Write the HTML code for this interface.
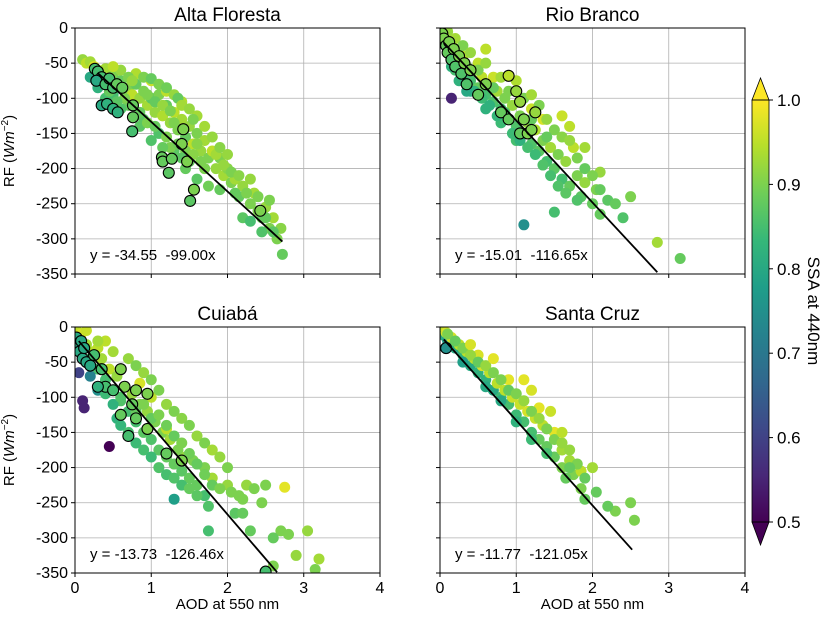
<!DOCTYPE html>
<html><head><meta charset="utf-8"><style>
body{margin:0;background:#fff}
svg{font-family:"Liberation Sans","DejaVu Sans",sans-serif}
.eq{white-space:pre}
</style></head><body>
<svg id="fig" width="824" height="616" xmlns="http://www.w3.org/2000/svg"></svg>
<script>
// ---- data: [AOD, RF, SSA] ----
const xTicks=[0,1,2,3,4];
const yTicks=[0,-50,-100,-150,-200,-250,-300,-350];
const cbTicks=[0.5,0.6,0.7,0.8,0.9,1.0];
const titles=["Alta Floresta","Rio Branco","Cuiabá","Santa Cruz"];
const equations=["y = -34.55  -99.00x","y = -15.01  -116.65x","y = -13.73  -126.46x","y = -11.77  -121.05x"];
const intercepts=[-34.55,-15.01,-13.73,-11.77];
const slopes=[-99.00,-116.65,-126.46,-121.05];
const lineRanges=[[0.3,2.72],[0.05,2.85],[0.05,2.65],[0.05,2.52]];
const afPoints=[[0.1,-45,0.92],[0.15,-50,0.95],[0.2,-48,0.93],[0.25,-55,0.97],[0.3,-60,0.96],[0.35,-65,0.9],[0.4,-58,0.93],[0.45,-72,0.95],[0.5,-68,0.9],[0.55,-80,0.92],[0.6,-75,0.88],[0.65,-90,0.93],[0.7,-85,0.9],[0.75,-95,0.95],[0.8,-80,0.88],[0.85,-100,0.92],[0.9,-90,0.9],[0.95,-110,0.93],[1.0,-100,0.87],[1.05,-120,0.92],[1.1,-95,0.9],[1.15,-125,0.94],[1.2,-110,0.88],[1.25,-135,0.92],[1.3,-120,0.95],[1.35,-145,0.9],[1.4,-130,0.93],[1.45,-155,0.88],[1.5,-140,0.92],[1.55,-165,0.95],[1.6,-150,0.9],[1.65,-175,0.92],[1.7,-160,0.93],[1.75,-185,0.9],[1.8,-175,0.95],[1.85,-200,0.92],[1.9,-185,0.9],[1.95,-210,0.93],[2.0,-200,0.91],[2.05,-220,0.9],[2.1,-215,0.93],[2.15,-240,0.88],[2.2,-225,0.92],[2.3,-250,0.9],[2.35,-235,0.93],[2.4,-260,0.9],[2.45,-270,0.88],[2.5,-255,0.92],[2.55,-285,0.9],[2.6,-270,0.93],[2.65,-300,0.9],[2.7,-285,0.91],[2.72,-322,0.88],[0.5,-95,0.85],[0.7,-110,0.88],[0.9,-130,0.87],[1.1,-150,0.86],[1.3,-175,0.87],[1.5,-190,0.88],[1.7,-200,0.9],[1.2,-90,0.95],[1.4,-105,0.94],[1.6,-125,0.93],[0.8,-65,0.94],[1.0,-75,0.96],[1.9,-230,0.88],[2.2,-270,0.87],[0.3,-85,0.82],[0.4,-100,0.85],[0.2,-70,0.8],[0.6,-115,0.86],[0.85,-140,0.87],[1.0,-160,0.86],[1.25,-170,0.9],[1.45,-200,0.88],[1.6,-215,0.87],[1.75,-225,0.89]];
const afExtra=[[0.9,-70,0.9],[1.0,-72,0.88],[1.1,-80,0.9],[1.2,-85,0.89],[1.3,-95,0.92],[1.35,-100,0.88],[1.4,-110,0.93],[1.5,-115,0.92],[1.55,-130,0.9],[0.95,-95,0.9],[1.05,-105,0.88],[1.15,-110,0.92],[1.25,-118,0.9],[0.6,-60,0.92],[0.7,-70,0.9],[0.85,-120,0.88],[0.95,-135,0.9],[1.05,-140,0.88],[1.2,-155,0.9],[1.35,-165,0.89],[1.45,-175,0.9],[1.55,-180,0.91],[1.65,-190,0.9],[1.85,-180,0.93],[1.95,-195,0.92],[2.05,-205,0.9],[2.15,-210,0.91],[2.25,-235,0.9],[2.3,-215,0.92],[2.4,-240,0.9],[2.5,-270,0.88],[2.6,-290,0.87],[2.55,-245,0.9],[2.45,-290,0.86],[1.7,-140,0.93],[1.8,-155,0.92],[1.9,-170,0.91],[2.0,-180,0.92],[0.5,-55,0.95],[0.65,-100,0.9],[0.75,-75,0.92],[1.15,-170,0.88],[1.3,-135,0.9],[1.4,-185,0.87],[2.1,-235,0.88],[2.3,-275,0.85],[1.6,-165,0.91],[0.55,-105,0.87],[0.45,-90,0.88]];
const afCircled=[[0.26,-58,0.85],[0.3,-62,0.85],[0.35,-70,0.85],[0.28,-75,0.8],[0.4,-80,0.85],[0.45,-72,0.85],[0.5,-85,0.85],[0.55,-80,0.88],[0.62,-85,0.88],[0.35,-110,0.8],[0.42,-108,0.82],[0.5,-115,0.82],[0.56,-120,0.82],[0.76,-110,0.88],[0.76,-127,0.88],[0.75,-147,0.85],[1.42,-144,0.9],[1.4,-165,0.9],[1.14,-184,0.88],[1.15,-190,0.88],[1.27,-186,0.88],[1.47,-190,0.9],[1.23,-206,0.87],[1.56,-230,0.9],[1.51,-246,0.87],[2.43,-260,0.9]];
const rbPoints=[[0.02,-5,0.95],[0.05,-10,0.92],[0.08,-20,0.9],[0.1,-12,0.97],[0.12,-30,0.88],[0.15,-25,0.95],[0.18,-40,0.85],[0.2,-30,0.93],[0.25,-50,0.88],[0.3,-40,0.95],[0.3,-65,0.82],[0.35,-55,0.9],[0.4,-75,0.85],[0.45,-60,0.93],[0.5,-85,0.88],[0.55,-70,0.95],[0.6,-95,0.85],[0.65,-80,0.92],[0.7,-105,0.86],[0.75,-90,0.93],[0.8,-115,0.85],[0.85,-100,0.9],[0.9,-130,0.84],[0.95,-110,0.92],[1.0,-140,0.86],[1.05,-125,0.9],[1.1,-150,0.85],[1.15,-135,0.92],[1.2,-165,0.86],[1.25,-145,0.94],[1.3,-175,0.87],[1.35,-160,0.9],[1.4,-190,0.85],[1.45,-170,0.93],[1.5,-200,0.87],[1.55,-180,0.9],[1.6,-215,0.85],[1.65,-190,0.92],[1.7,-225,0.88],[1.8,-210,0.9],[1.85,-240,0.87],[1.9,-220,0.92],[2.0,-250,0.88],[2.05,-230,0.9],[2.1,-205,0.92],[1.75,-170,0.95],[1.2,-115,0.96],[1.35,-130,0.97],[0.15,-100,0.55],[1.1,-280,0.75],[3.15,-328,0.88],[2.85,-305,0.93],[1.5,-262,0.85],[0.4,-90,0.8],[0.6,-115,0.82],[0.8,-135,0.84],[0.2,-60,0.85],[1.0,-160,0.85],[2.1,-265,0.88],[0.5,-50,0.95],[0.7,-70,0.96]];
const rbExtra=[[0.1,-5,0.92],[0.2,-15,0.93],[0.3,-25,0.9],[0.4,-35,0.92],[0.5,-60,0.9],[0.6,-50,0.92],[0.7,-85,0.88],[0.8,-70,0.93],[0.9,-90,0.9],[1.0,-75,0.94],[1.1,-100,0.9],[1.2,-95,0.93],[1.3,-110,0.9],[1.4,-130,0.92],[1.5,-145,0.9],[1.6,-155,0.91],[1.7,-160,0.92],[1.8,-185,0.9],[1.9,-200,0.88],[2.0,-210,0.9],[2.1,-230,0.88],[2.2,-245,0.87],[2.3,-250,0.88],[2.4,-270,0.86],[2.5,-240,0.9],[1.9,-170,0.93],[1.7,-140,0.95],[1.6,-125,0.96],[0.45,-90,0.82],[0.55,-100,0.84],[0.65,-110,0.82],[0.75,-125,0.83],[0.85,-120,0.86],[0.95,-150,0.84],[1.05,-160,0.82],[1.15,-170,0.85],[1.25,-180,0.84],[1.35,-195,0.86],[1.45,-210,0.85],[1.55,-225,0.86],[1.65,-235,0.87],[1.8,-245,0.86],[0.25,-75,0.82],[0.35,-90,0.8],[0.15,-55,0.82],[1.2,-130,0.88],[1.4,-155,0.88],[0.6,-30,0.95]];
const rbCircled=[[0.03,-8,0.9],[0.05,-15,0.9],[0.08,-25,0.88],[0.1,-35,0.88],[0.12,-20,0.9],[0.15,-45,0.86],[0.18,-30,0.9],[0.2,-55,0.86],[0.25,-40,0.9],[0.28,-65,0.86],[0.32,-50,0.9],[0.35,-80,0.86],[0.4,-60,0.9],[0.5,-95,0.88],[0.6,-80,0.9],[0.9,-68,0.95],[1.0,-90,0.92],[1.05,-105,0.92],[0.8,-120,0.88],[0.9,-130,0.88],[1.1,-130,0.9],[1.25,-120,0.92],[1.05,-150,0.88],[1.15,-150,0.9],[1.2,-145,0.9]];
const cuPoints=[[0.02,-5,0.95],[0.05,-15,0.9],[0.08,-10,0.97],[0.1,-30,0.85],[0.15,-25,0.93],[0.2,-45,0.85],[0.25,-35,0.95],[0.3,-60,0.85],[0.35,-45,0.93],[0.4,-75,0.85],[0.45,-60,0.95],[0.5,-90,0.86],[0.55,-70,0.92],[0.6,-105,0.86],[0.65,-85,0.93],[0.7,-120,0.85],[0.75,-95,0.92],[0.8,-135,0.85],[0.85,-110,0.9],[0.9,-150,0.87],[0.95,-120,0.92],[1.0,-160,0.86],[1.05,-135,0.9],[1.1,-175,0.87],[1.15,-150,0.9],[1.2,-185,0.88],[1.25,-160,0.93],[1.3,-195,0.88],[1.35,-175,0.9],[1.4,-205,0.87],[1.45,-185,0.92],[1.5,-215,0.88],[1.55,-190,0.9],[1.6,-225,0.88],[1.7,-200,0.9],[1.8,-215,0.93],[2.0,-225,0.92],[2.05,-235,0.9],[2.25,-225,0.92],[2.35,-230,0.9],[2.5,-225,0.9],[2.75,-228,0.98],[2.45,-250,0.9],[2.15,-240,0.9],[2.3,-290,0.88],[2.1,-265,0.87],[2.7,-290,0.9],[2.8,-295,0.9],[3.05,-290,0.92],[3.2,-330,0.93],[2.9,-325,0.92],[1.75,-290,0.85],[0.45,-170,0.5],[0.1,-105,0.55],[0.12,-115,0.55],[0.05,-65,0.6],[1.3,-245,0.78],[1.75,-255,0.86],[1.7,-240,0.85],[1.2,-145,0.95],[0.3,-30,0.95],[0.6,-60,0.95],[0.85,-80,0.97],[1.0,-100,0.95],[0.3,-90,0.75],[0.2,-70,0.72],[0.55,-130,0.82]];
const cuExtra=[[0.4,-20,0.95],[0.5,-35,0.93],[0.7,-45,0.92],[0.8,-55,0.9],[0.9,-65,0.92],[1.0,-75,0.9],[1.1,-90,0.9],[1.2,-110,0.92],[1.3,-120,0.9],[1.4,-130,0.91],[1.5,-140,0.9],[1.6,-155,0.92],[1.7,-165,0.9],[1.8,-175,0.93],[1.9,-185,0.92],[2.0,-200,0.9],[0.5,-110,0.82],[0.6,-140,0.83],[0.7,-150,0.85],[0.8,-165,0.84],[0.9,-175,0.85],[1.0,-185,0.84],[1.1,-200,0.86],[1.2,-210,0.85],[1.3,-215,0.86],[1.4,-225,0.85],[1.5,-230,0.88],[1.6,-240,0.87],[0.8,-120,0.88],[0.9,-110,0.9],[1.0,-130,0.88],[1.1,-125,0.9],[1.2,-140,0.89],[1.3,-155,0.88],[1.4,-165,0.9],[1.5,-180,0.89],[1.6,-195,0.88],[1.7,-210,0.89],[1.8,-225,0.88],[1.9,-230,0.9],[2.2,-245,0.9],[2.2,-265,0.88],[2.6,-300,0.88],[3.15,-345,0.9],[2.6,-340,0.9],[0.3,-20,0.93],[0.15,-5,0.96],[0.6,-100,0.86],[0.4,-95,0.84]];
const cuCircled=[[0.02,-15,0.8],[0.04,-25,0.8],[0.06,-35,0.8],[0.08,-20,0.8],[0.1,-45,0.8],[0.12,-30,0.8],[0.15,-50,0.8],[0.2,-55,0.8],[0.25,-40,0.85],[0.35,-60,0.85],[0.4,-85,0.85],[0.3,-85,0.82],[0.5,-90,0.85],[0.6,-60,0.9],[0.65,-85,0.9],[0.8,-90,0.9],[0.95,-95,0.9],[0.75,-110,0.88],[0.6,-125,0.88],[0.8,-130,0.88],[0.7,-155,0.85],[0.95,-145,0.9],[1.2,-180,0.88],[1.4,-190,0.9],[2.5,-348,0.85]];
const scPoints=[[0.02,-5,0.95],[0.05,-12,0.8],[0.08,-8,0.97],[0.1,-20,0.78],[0.15,-15,0.97],[0.2,-30,0.8],[0.25,-25,0.95],[0.3,-40,0.82],[0.35,-35,0.95],[0.4,-55,0.8],[0.45,-45,0.95],[0.5,-65,0.82],[0.55,-55,0.97],[0.6,-75,0.82],[0.65,-65,0.95],[0.7,-90,0.8],[0.75,-80,0.95],[0.8,-100,0.84],[0.85,-90,0.95],[0.9,-110,0.85],[0.95,-100,0.96],[1.0,-125,0.84],[1.05,-110,0.96],[1.1,-135,0.85],[1.15,-120,0.97],[1.2,-150,0.85],[1.25,-130,0.96],[1.3,-160,0.88],[1.35,-140,0.95],[1.4,-170,0.88],[1.5,-150,0.98],[1.5,-185,0.88],[1.6,-175,0.93],[1.6,-200,0.9],[1.7,-190,0.93],[1.75,-210,0.9],[1.85,-205,0.95],[2.0,-200,0.93],[2.05,-235,0.88],[2.3,-262,0.9],[2.5,-250,0.9],[2.55,-275,0.9],[1.9,-245,0.88],[1.3,-115,0.98],[0.9,-75,0.98],[0.5,-40,0.97],[1.85,-230,0.9],[1.65,-215,0.88]];
const scExtra=[[0.1,-10,0.9],[0.2,-20,0.88],[0.3,-30,0.9],[0.4,-40,0.92],[0.5,-50,0.88],[0.6,-55,0.92],[0.7,-65,0.9],[0.8,-75,0.9],[0.9,-90,0.88],[1.0,-95,0.9],[1.1,-105,0.92],[1.2,-120,0.9],[1.3,-130,0.92],[1.4,-145,0.9],[1.5,-160,0.9],[1.6,-165,0.92],[1.7,-175,0.92],[1.8,-195,0.9],[0.3,-50,0.78],[0.6,-85,0.8],[0.8,-105,0.8],[1.0,-135,0.82],[1.2,-160,0.84],[1.4,-180,0.85],[1.1,-75,0.98],[1.2,-90,0.97],[0.7,-45,0.98],[0.4,-25,0.97],[1.45,-120,0.96],[1.7,-200,0.88],[1.9,-215,0.88],[2.2,-255,0.88],[1.6,-150,0.95]];
const scCircled=[[0.08,-30,0.75]];
const panelPoints=[afPoints.concat(afExtra),rbPoints.concat(rbExtra),cuPoints.concat(cuExtra),scPoints.concat(scExtra)];
const panelCircled=[afCircled,rbCircled,cuCircled,scCircled];

const svg=document.getElementById('fig');
const NS='http://www.w3.org/2000/svg';
function mk(tag,attrs,parent){const e=document.createElementNS(NS,tag);for(const k in attrs)e.setAttribute(k,attrs[k]);(parent||svg).appendChild(e);return e;}
const vir=[[68,1,84],[72,40,120],[62,73,137],[49,104,142],[38,130,142],[31,158,137],[53,183,121],[110,206,88],[181,222,43],[253,231,37]];
function cmap(s){let t=Math.max(0,Math.min(1,(s-0.5)/0.5))*(vir.length-1);const i=Math.min(vir.length-2,Math.floor(t)),f=t-i;const c=vir[i].map((v,k)=>Math.round(v+(vir[i+1][k]-v)*f));return `rgb(${c})`;}
const panels=[{x0:75,y0:28},{x0:440,y0:28},{x0:75,y0:327},{x0:440,y0:327}];
const W=305,H=246;
panels.forEach((p,i)=>{
  const xs=v=>p.x0+v/4*W, ys=v=>p.y0+(-v)/350*H;
  const g=mk('g',{});
  
  
  const cp=mk('clipPath',{id:'c'+i},g);mk('rect',{x:p.x0,y:p.y0,width:W,height:H},cp);
  xTicks.forEach(t=>{mk('line',{x1:xs(t),x2:xs(t),y1:p.y0,y2:p.y0+H,stroke:'#b0b0b0','stroke-width':0.8},g);
    mk('line',{x1:xs(t),x2:xs(t),y1:p.y0+H,y2:p.y0+H+4,stroke:'#000'},g);
    if(i>=2){const tx=mk('text',{x:xs(t),y:p.y0+H+20,'text-anchor':'middle','font-size':16},g);tx.textContent=t;}});
  yTicks.forEach(t=>{mk('line',{x1:p.x0,x2:p.x0+W,y1:ys(t),y2:ys(t),stroke:'#b0b0b0','stroke-width':0.8},g);
    mk('line',{x1:p.x0-4,x2:p.x0,y1:ys(t),y2:ys(t),stroke:'#000'},g);
    if(i%2==0){const tx=mk('text',{x:p.x0-7,y:ys(t)+5,'text-anchor':'end','font-size':16},g);tx.textContent=t;}});
  const pg=mk('g',{'clip-path':`url(#c${i})`},g);
  
  
  panelPoints[i].forEach(d=>{const c=mk('circle',{cx:xs(d[0]),cy:ys(d[1]),r:5.5,fill:cmap(d[2])},pg);
    
    });
  panelCircled[i].forEach(d=>{const c=mk('circle',{cx:xs(d[0]),cy:ys(d[1]),r:5.5,fill:cmap(d[2]),stroke:'#000','stroke-width':1.1},pg);
    
    });
  const r=lineRanges[i];
  const ln=mk('line',{x1:xs(r[0]),y1:ys(intercepts[i]+slopes[i]*r[0]),x2:xs(r[1]),y2:ys(intercepts[i]+slopes[i]*r[1]),stroke:'#000','stroke-width':1.8},pg);
  
  
  mk('rect',{x:p.x0,y:p.y0,width:W,height:H,fill:'none',stroke:'#000','stroke-width':1},g);
  const tt=mk('text',{x:p.x0+W/2,y:p.y0-7,'text-anchor':'middle','font-size':19},g);tt.textContent=titles[i];
  
  
  const eq=mk('text',{x:p.x0+15,y:p.y0+H-14,'font-size':15,'class':'eq'},g);eq.textContent=equations[i];
  
  
  if(i%2==0){const yl=mk('text',{transform:`translate(14,${p.y0+H/2}) rotate(-90)`,'text-anchor':'middle','font-size':15},g);
    yl.innerHTML='RF (<tspan font-style="italic">Wm</tspan><tspan dy="-6" font-size="10">−2</tspan><tspan dy="6">)</tspan>';
    
    }
  if(i>=2){const xl=mk('text',{x:p.x0+W/2,y:609,'text-anchor':'middle','font-size':15},g);xl.textContent='AOD at 550 nm';
    
    }
});
// colorbar
const cb=mk('g',{});


const cx0=752,cw=17,cyTop=100,cyBot=522;
const cys=v=>cyBot-(v-0.5)/0.5*(cyBot-cyTop);
const grad=mk('linearGradient',{id:'vg',x1:0,y1:1,x2:0,y2:0},cb);
vir.forEach((c,k)=>mk('stop',{offset:k/(vir.length-1),'stop-color':`rgb(${c})`},grad));
mk('rect',{x:cx0,y:cyTop,width:cw,height:cyBot-cyTop,fill:'url(#vg)'},cb);
mk('polygon',{points:`${cx0},${cyTop} ${cx0+cw},${cyTop} ${cx0+cw/2},78`,fill:cmap(1),stroke:'#000','stroke-width':0.8},cb);
mk('polygon',{points:`${cx0},${cyBot} ${cx0+cw},${cyBot} ${cx0+cw/2},545`,fill:cmap(0.5),stroke:'#000','stroke-width':0.8},cb);
mk('rect',{x:cx0,y:cyTop,width:cw,height:cyBot-cyTop,fill:'none',stroke:'#000','stroke-width':0.8},cb);
cbTicks.forEach(t=>{mk('line',{x1:cx0+cw,x2:cx0+cw+4,y1:cys(t),y2:cys(t),stroke:'#000'},cb);
  const tx=mk('text',{x:cx0+cw+8,y:cys(t)+6,'font-size':17},cb);tx.textContent=t.toFixed(1);});
const cl=mk('text',{transform:`translate(808,311) rotate(90)`,'text-anchor':'middle','font-size':17},cb);cl.textContent='SSA at 440nm';


</script>
</body></html>
